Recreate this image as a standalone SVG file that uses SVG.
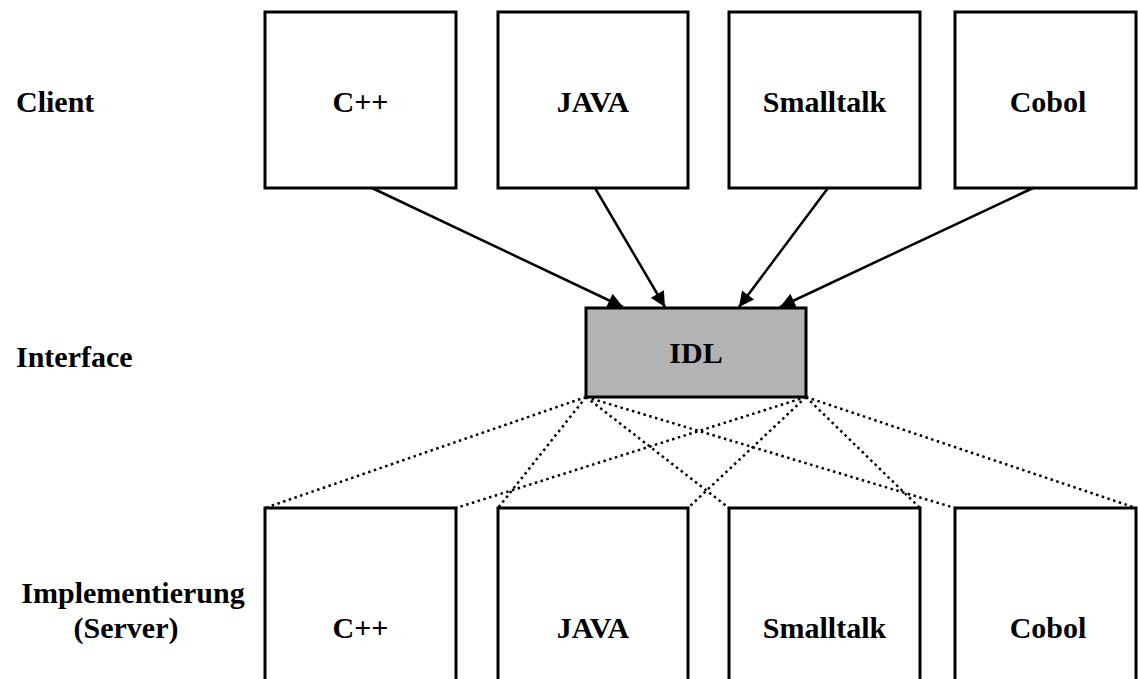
<svg xmlns="http://www.w3.org/2000/svg" width="1138" height="679" viewBox="0 0 1138 679">
<style>
.box{fill:#fff;stroke:#000;stroke-width:3}
.idl{fill:#b3b3b3;stroke:#000;stroke-width:3}
.t{font-family:"Liberation Serif","Times New Roman",serif;font-weight:bold;font-size:30px;fill:#000}
.c{text-anchor:middle}
.arr{stroke:#000;stroke-width:2.5;fill:none;marker-end:url(#ah)}
.dot{stroke:#000;stroke-width:2.5;fill:none;stroke-dasharray:2.5 3.5}
</style>
<defs>
<marker id="ah" viewBox="0 0 10 10" refX="10" refY="5" markerWidth="7" markerHeight="6" markerUnits="strokeWidth" orient="auto">
<path d="M0,0 L10,5 L0,10 z" fill="#000"/>
</marker>
</defs>
<rect width="1138" height="679" fill="#fff"/>
<g id="labels">
<text class="t" x="16" y="112">Client</text>
<text class="t" x="16" y="367">Interface</text>
<text class="t c" x="133" y="603">Implementierung</text>
<text class="t c" x="126" y="638">(Server)</text>
</g>
<g id="connectors">
<line class="arr" x1="372" y1="188" x2="623" y2="307"/>
<line class="arr" x1="595" y1="188" x2="665" y2="307"/>
<line class="arr" x1="828" y1="188" x2="739" y2="307"/>
<line class="arr" x1="1033" y1="188" x2="780" y2="307"/>
<line class="dot" x1="586" y1="397" x2="265" y2="508"/>
<line class="dot" x1="586" y1="397" x2="498" y2="508"/>
<line class="dot" x1="586" y1="397" x2="729" y2="508"/>
<line class="dot" x1="586" y1="397" x2="955" y2="508"/>
<line class="dot" x1="806" y1="397" x2="456" y2="508"/>
<line class="dot" x1="806" y1="397" x2="688" y2="508"/>
<line class="dot" x1="806" y1="397" x2="920" y2="508"/>
<line class="dot" x1="806" y1="397" x2="1136" y2="508"/>
</g>
<g id="client-cpp"><rect class="box" x="265" y="12" width="191" height="176"/><text class="t c" x="360.5" y="112">C++</text></g>
<g id="client-java"><rect class="box" x="498" y="12" width="190" height="176"/><text class="t c" x="593" y="112">JAVA</text></g>
<g id="client-smalltalk"><rect class="box" x="729" y="12" width="191" height="176"/><text class="t c" x="824.5" y="112">Smalltalk</text></g>
<g id="client-cobol"><rect class="box" x="955" y="12" width="181" height="176"/><text class="t c" x="1048" y="112">Cobol</text></g>
<g id="idl"><rect class="idl" x="586" y="308" width="220" height="89"/><text class="t c" x="696" y="363">IDL</text></g>
<g id="server-cpp"><path class="box" d="M265,690 V508 H456 V690"/><text class="t c" x="360.5" y="638">C++</text></g>
<g id="server-java"><path class="box" d="M498,690 V508 H688 V690"/><text class="t c" x="593" y="638">JAVA</text></g>
<g id="server-smalltalk"><path class="box" d="M729,690 V508 H920 V690"/><text class="t c" x="824.5" y="638">Smalltalk</text></g>
<g id="server-cobol"><path class="box" d="M955,690 V508 H1136 V690"/><text class="t c" x="1048" y="638">Cobol</text></g>
</svg>
